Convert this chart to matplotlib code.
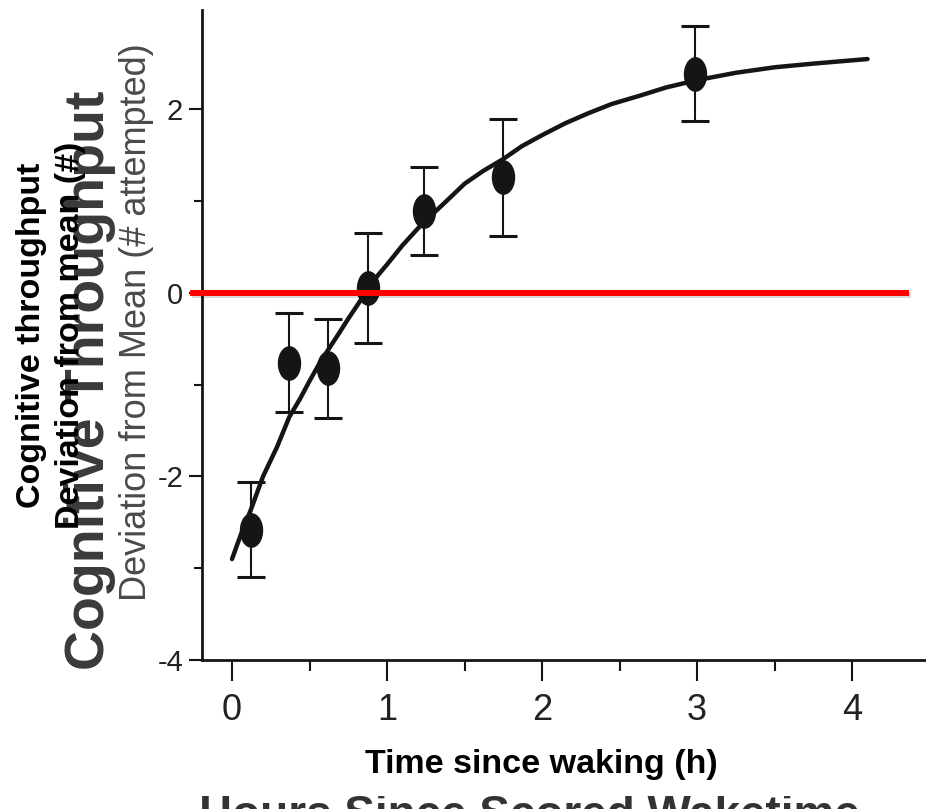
import numpy as np
import matplotlib
matplotlib.use("Agg")
import matplotlib.pyplot as plt
import matplotlib.patheffects as pe
from matplotlib.path import Path
from matplotlib.patches import Rectangle

# data
hours = [0.12, 0.37, 0.62, 0.88, 1.24, 1.75, 2.99]
deviation = [-2.58, -0.76, -0.82, 0.05, 0.89, 1.26, 2.39]
dev_err = [0.52, 0.54, 0.54, 0.60, 0.48, 0.64, 0.52]

# fitted curve (traced)
fit_x = [0.00, 0.06, 0.12, 0.20, 0.29, 0.37, 0.44, 0.50, 0.56, 0.62, 0.69, 0.75,
         0.81, 0.88, 0.94, 1.00, 1.10, 1.23, 1.37, 1.50, 1.62, 1.75, 1.87, 2.00,
         2.15, 2.30, 2.45, 2.63, 2.80, 3.00, 3.25, 3.50, 3.75, 4.10]
fit_y = [-2.90, -2.62, -2.37, -2.00, -1.68, -1.35, -1.15, -0.96, -0.78, -0.62, -0.44, -0.28,
         -0.13, 0.05, 0.19, 0.31, 0.52, 0.76, 0.98, 1.19, 1.33, 1.46, 1.60, 1.72,
         1.85, 1.96, 2.06, 2.15, 2.24, 2.32, 2.40, 2.46, 2.50, 2.55]

ref_x = [-0.25, 4.35]   # red zero line
ref_y = [0, 0]

x_ticks = [0, 1, 2, 3, 4]
y_ticks = [-4, -2, 0, 2]

W, H = 926, 809
sans = ['Liberation Sans', 'DejaVu Sans']
ink = '#151515'

fig = plt.figure(figsize=(W / 100, H / 100), dpi=100)
ax = fig.add_axes([202 / W, 1 - 660 / H, 1 - 202 / W, (660 - 10) / H])
ax.set_xlim((202 - 232) / 155, (926 - 232) / 155)
ax.set_ylim(-4, (293 - 10) / 91.75)

# curve
ax.plot(fit_x, fit_y, color=ink, lw=3.2, solid_capstyle='round',
        solid_joinstyle='round', zorder=2)

# error bars + elliptical dots
ax.errorbar(hours, deviation, yerr=dev_err, fmt='none', ecolor=ink,
            elinewidth=1.5, capsize=10, capthick=2.2, zorder=3)
circ = Path.unit_circle()
ellipse = Path(circ.vertices * [0.66, 1.0], circ.codes)
ax.plot(hours, deviation, ls='none', marker=ellipse, markersize=24,
        color=ink, zorder=4)

# red reference line
ax.plot(ref_x, ref_y, color='#ff0000', lw=4.3, zorder=5, clip_on=False,
        path_effects=[pe.SimpleLineShadow(offset=(1, -1.2), alpha=0.15),
                      pe.Normal()])

ax.spines['top'].set_visible(False)
ax.spines['right'].set_visible(False)
for s in ['left', 'bottom']:
    ax.spines[s].set_linewidth(2.0)
    ax.spines[s].set_color(ink)

ax.set_xticks(x_ticks)
ax.set_xticks(np.arange(0.5, 4.5, 1.0), minor=True)
ax.set_yticks(y_ticks)
ax.set_yticks([-3, -1, 1], minor=True)
ax.set_xticklabels([str(v) for v in x_ticks], family=sans, fontsize=26, color='#222222')
ax.set_yticklabels([str(v) for v in y_ticks], family=sans, fontsize=21, color='#222222')
ax.tick_params(axis='x', which='major', length=15, width=1.5, pad=9, color=ink)
ax.tick_params(axis='x', which='minor', length=8, width=1.5, color=ink)
ax.tick_params(axis='y', which='major', length=9.5, width=1.5, pad=4, color=ink)
ax.tick_params(axis='y', which='minor', length=5.5, width=1.5, color=ink)

# original scanned labels
fig.text(90 / W, 1 - 380 / H, 'Cognitive Throughput', rotation=90,
         ha='center', va='center', family=sans, fontweight='bold',
         fontsize=40, color='#3a3a3a', zorder=2)
fig.text(137 / W, 1 - 322 / H, 'Deviation from Mean (# attempted)', rotation=90,
         ha='center', va='center', family=sans, fontsize=26, color='#4a4a4a', zorder=2)
fig.text(529 / W, 1 - 828 / H, 'Hours Since Scored Waketime', ha='center',
         va='baseline', family=sans, fontweight='bold', fontsize=33,
         color='#333333', zorder=1)

# white patch covering the old x label
fig.patches.append(Rectangle((150 / W, 1 - 796 / H), 760 / W, 54 / H,
                             transform=fig.transFigure, facecolor='white',
                             edgecolor='none', zorder=3))

# overlaid labels
fig.text(541 / W, 1 - 765 / H, 'Time since waking (h)', ha='center', va='center',
         family=sans, fontweight='bold', fontsize=24.5, color='black', zorder=4)
fig.text(51 / W, 1 - 335 / H, 'Cognitive throughput\nDeviation from mean (#)',
         rotation=90, ha='center', va='center', multialignment='center',
         family=sans, fontweight='bold', fontsize=24.5, linespacing=1.35,
         color='black', zorder=4)

fig.savefig('out.png', dpi=100)
